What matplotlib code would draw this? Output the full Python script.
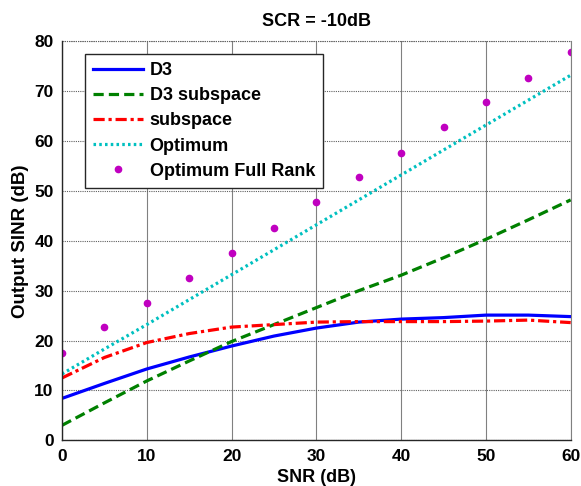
import matplotlib
matplotlib.use("Agg")
import matplotlib.pyplot as plt

plt.rcParams['font.family'] = ['Liberation Sans', 'DejaVu Sans']
plt.rcParams['font.weight'] = 'bold'

snr = [0, 5, 10, 15, 20, 25, 30, 35, 40, 45, 50, 55, 60]
d3 = [8.4, 11.4, 14.3, 16.7, 18.9, 20.9, 22.5, 23.7, 24.3, 24.6, 25.1, 25.1, 24.8]
d3_subspace = [3.0, 7.5, 11.9, 15.9, 19.8, 23.2, 26.6, 30.0, 33.1, 36.6, 40.3, 44.2, 48.2]
subspace = [12.5, 16.6, 19.6, 21.4, 22.7, 23.2, 23.7, 23.8, 23.8, 23.8, 23.9, 24.1, 23.6]
optimum = [13.3, 18.3, 23.2, 28.2, 33.2, 38.2, 43.2, 48.2, 53.2, 58.2, 63.2, 68.2, 73.2]
opt_full_rank = [17.6, 22.7, 27.6, 32.6, 37.6, 42.6, 47.8, 52.7, 57.6, 62.8, 67.8, 72.7, 77.8]

fig = plt.figure(figsize=(5.81, 4.86), dpi=100)
ax = fig.add_axes([62/581, 1-440.3/486, 508.7/581, 399/486])

ax.plot(snr, d3, color='#0000ff', lw=2.3, ls='-', label='D3')
ax.plot(snr, d3_subspace, color='#008000', lw=2.3, ls=(0, (3.2, 1.6)), label='D3 subspace')
ax.plot(snr, subspace, color='#ff0000', lw=2.3, ls=(0, (3.5, 1.2, 1.0, 1.2)), label='subspace')
ax.plot(snr, optimum, color='#00c0c0', lw=2.3, ls=(0, (0.8, 1.0)), label='Optimum')
ax.plot(snr, opt_full_rank, color='#c000c0', ls='none', marker='o', ms=4.5, label='Optimum Full Rank')

ax.set_xlim(0, 60)
ax.set_ylim(0, 80)
ax.set_xticks(range(0, 61, 10))
ax.set_yticks(range(0, 81, 10))
ax.xaxis.grid(True, color='#808080', lw=0.8, ls='-')
ax.yaxis.grid(True, color='#606060', lw=0.8, ls=(0, (1, 1)))
ax.set_axisbelow(True)
for s in ['top', 'right']:
    ax.spines[s].set_visible(False)
for s in ['left', 'bottom']:
    ax.spines[s].set_color('#262626')
    ax.spines[s].set_linewidth(1.0)
ax.tick_params(direction='in', length=0, labelsize=12.5, pad=6)
for lbl in ax.get_xticklabels() + ax.get_yticklabels():
    lbl.set_fontweight('bold')

# top and right borders
ax.axhline(80, color='#606060', lw=0.8, ls=(0, (1, 1)), clip_on=False)
ax.axvline(60, color='#808080', lw=0.8, ls='-', clip_on=False)

ax.set_title('SCR = -10dB', fontsize=13, fontweight='bold', pad=11)
ax.set_xlabel('SNR (dB)', fontsize=13, fontweight='bold', labelpad=4)
ax.set_ylabel('Output SINR (dB)', fontsize=13.5, fontweight='bold', labelpad=4)

leg = ax.legend(loc='upper left', bbox_to_anchor=(0.0446, 0.968), borderaxespad=0,
                fancybox=False, edgecolor='#262626', framealpha=1,
                prop={'size': 13, 'weight': 'bold'}, handlelength=2.8,
                labelspacing=0.45, borderpad=0.45, handletextpad=0.35)
leg.get_frame().set_linewidth(1.0)

fig.savefig('out.png', dpi=100)
